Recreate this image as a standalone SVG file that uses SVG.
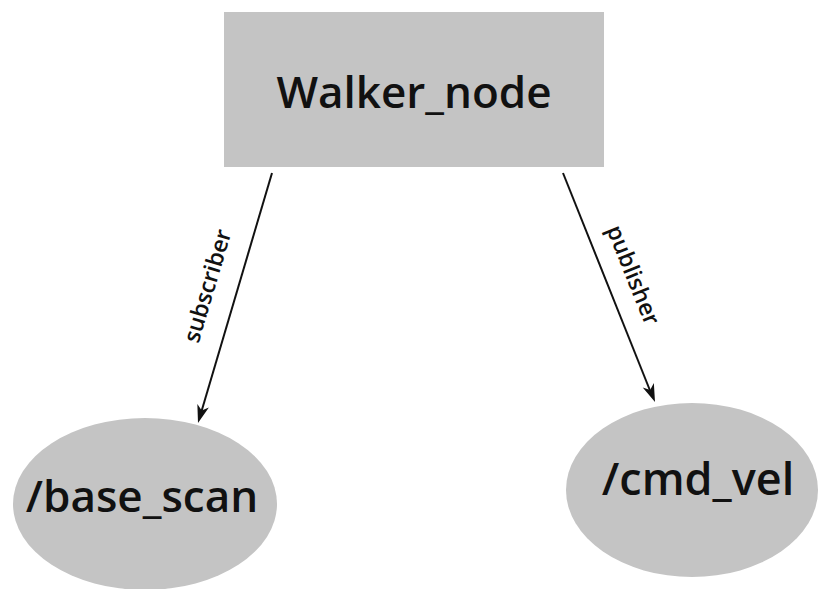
<svg xmlns="http://www.w3.org/2000/svg" width="818" height="589" viewBox="0 0 818 589">
  <defs>
    <style>
      .shape { fill: #c4c4c4; stroke: none; }
      .title { font-family: "Open Sans", "Noto Sans", sans-serif; font-weight: 600; fill: #111; text-anchor: middle; }
      .edge { stroke: #111; stroke-width: 2; fill: none; }
      .head { fill: #111; }
      .elabel { font-family: "Open Sans", "Noto Sans", sans-serif; font-size: 23px; font-weight: 600; fill: #111; text-anchor: middle; }
    </style>
  </defs>
  <rect width="818" height="589" fill="#fff"/>

  <g id="connectors">
    <line class="edge" x1="272" y1="173" x2="201" y2="413"/>
    <line class="edge" x1="563" y1="173" x2="651" y2="393"/>
    <path class="head" d="M0,0 L-18,-6 L-13,0 L-18,6 Z" transform="translate(198,423) rotate(106.5)"/>
    <path class="head" d="M0,0 L-18,-6 L-13,0 L-18,6 Z" transform="translate(655,402) rotate(68.1)"/>
    <text class="elabel" transform="translate(215,288) rotate(-73.5)">subscriber</text>
    <text class="elabel" transform="translate(626,278) rotate(68)">publisher</text>
  </g>

  <g id="walker_node">
    <rect class="shape" x="224" y="12" width="380" height="155"/>
    <text class="title" x="414" y="108" font-size="44">Walker_node</text>
  </g>

  <g id="base_scan">
    <ellipse class="shape" cx="145" cy="504" rx="132" ry="86"/>
    <text class="title" x="142" y="512" font-size="44">/base_scan</text>
  </g>

  <g id="cmd_vel">
    <ellipse class="shape" cx="692" cy="490" rx="126" ry="87"/>
    <text class="title" x="698" y="495" font-size="45">/cmd_vel</text>
  </g>
</svg>
